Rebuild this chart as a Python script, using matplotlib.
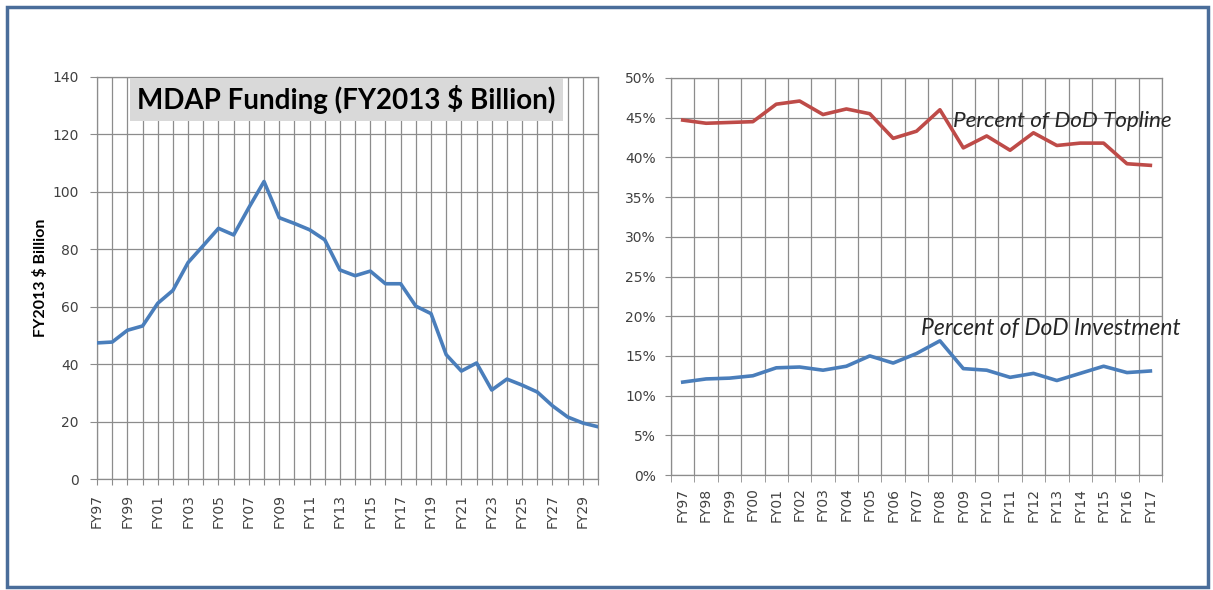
import matplotlib
matplotlib.use("Agg")
import matplotlib.pyplot as plt
from matplotlib.patches import Rectangle
from matplotlib.ticker import PercentFormatter

plt.rcParams['font.family'] = ['DejaVu Sans']

# MDAP funding, FY2013 $ billion
left_years = ["FY%02d" % (y % 100) for y in range(1997, 2031)]
funding = [47.4, 47.7, 51.8, 53.3, 61.2, 65.7, 75.4, 81.3, 87.3, 85.0,
           94.5, 103.6, 91.0, 89.0, 86.8, 83.3, 72.8, 70.8, 72.4, 68.0,
           68.0, 60.2, 57.6, 43.3, 37.6, 40.4, 31.0, 34.8, 32.7, 30.3,
           25.5, 21.6, 19.5, 18.2]

# shares (%) of DoD topline / investment
right_years = ["FY%02d" % (y % 100) for y in range(1997, 2018)]
topline = [44.7, 44.3, 44.4, 44.5, 46.7, 47.1, 45.4, 46.1, 45.5, 42.4,
           43.3, 46.0, 41.2, 42.7, 40.9, 43.1, 41.5, 41.8, 41.8, 39.2, 39.0]
investment = [11.7, 12.1, 12.2, 12.5, 13.5, 13.6, 13.2, 13.7, 15.0, 14.1,
              15.3, 16.9, 13.4, 13.2, 12.3, 12.8, 11.9, 12.8, 13.7, 12.9, 13.1]

BLUE = "#4a7ebb"
RED = "#be4b48"
GRID = "#8c8c8c"
TXT = "#404040"

fig = plt.figure(figsize=(12.13, 5.90), dpi=100)
fig.patch.set_facecolor("white")

# outer frame
fig.add_artist(Rectangle((0.0058, 0.0051), 0.990, 0.983, transform=fig.transFigure,
                         fill=False, edgecolor="#4a6d9a", linewidth=2.5))

# ---- left chart ----
ax1 = fig.add_axes([0.0800, 0.1881, 0.4130, 0.6814])
xs = list(range(len(funding)))
ax1.plot(xs, funding, color=BLUE, linewidth=2.6, solid_joinstyle="round", zorder=3)
ax1.set_xlim(0, len(funding) - 1)
ax1.set_ylim(0, 140)
ax1.set_yticks(range(0, 141, 20))
ax1.set_xticks(xs)
ax1.set_xticklabels([lab if i % 2 == 0 else "" for i, lab in enumerate(left_years)],
                    rotation=90)
ax1.grid(True, color=GRID, linewidth=0.9)
ax1.set_axisbelow(True)
ax1.tick_params(axis="y", length=5, pad=8, color=GRID, labelsize=10, labelcolor=TXT)
ax1.tick_params(axis="x", length=4, pad=7, color=GRID, labelsize=10, labelcolor=TXT)
for s in ax1.spines.values():
    s.set_color(GRID)
    s.set_linewidth(0.9)
ax1.set_ylabel("FY2013 $ Billion", fontsize=11.5, fontweight="bold", color="black", labelpad=3,
               family="Lato")

ax1.add_patch(Rectangle((0.066, 0.8905), 0.864, 0.107, transform=ax1.transAxes,
                        facecolor="#d9d9d9", edgecolor="none", zorder=4))
ax1.text(0.497, 0.943, "MDAP Funding (FY2013 $ Billion)", transform=ax1.transAxes,
         ha="center", va="center", fontsize=20, fontweight="bold", family="Lato",
         color="black", zorder=5)

# ---- right chart ----
ax2 = fig.add_axes([0.5532, 0.1949, 0.4048, 0.6729])
xr = list(range(len(topline)))
ax2.plot(xr, [v / 100 for v in topline], color=RED, linewidth=2.6,
         solid_joinstyle="round", zorder=3)
ax2.plot(xr, [v / 100 for v in investment], color=BLUE, linewidth=2.6,
         solid_joinstyle="round", zorder=3)
ax2.set_xlim(-0.5, len(topline) - 0.5)
ax2.set_ylim(0, 0.5)
ax2.set_yticks([i * 0.05 for i in range(11)])
ax2.yaxis.set_major_formatter(PercentFormatter(1.0, decimals=0))
ax2.set_xticks(xr)
ax2.set_xticklabels(right_years, rotation=90)
ax2.set_xticks([i - 0.5 for i in range(len(topline) + 1)], minor=True)
ax2.grid(True, axis="y", color=GRID, linewidth=0.9)
ax2.grid(True, axis="x", which="minor", color=GRID, linewidth=0.9)
ax2.set_axisbelow(True)
ax2.tick_params(axis="y", length=4, pad=7, color=GRID, labelsize=10, labelcolor=TXT)
ax2.tick_params(axis="x", which="major", length=0, pad=9, labelsize=10, labelcolor=TXT)
ax2.tick_params(axis="x", which="minor", length=5, color=GRID)
for s in ax2.spines.values():
    s.set_color(GRID)
    s.set_linewidth(0.9)

ax2.text(0.574, 0.892, "Percent of DoD Topline", transform=ax2.transAxes,
         ha="left", va="center", fontsize=16.2, style="italic", family="Lato",
         color="#262626", zorder=5)
ax2.text(0.509, 0.370, "Percent of DoD Investment", transform=ax2.transAxes,
         ha="left", va="center", fontsize=16.5, style="italic", family="Lato",
         color="#262626", zorder=5)

fig.savefig("out.png", dpi=100, facecolor="white")
